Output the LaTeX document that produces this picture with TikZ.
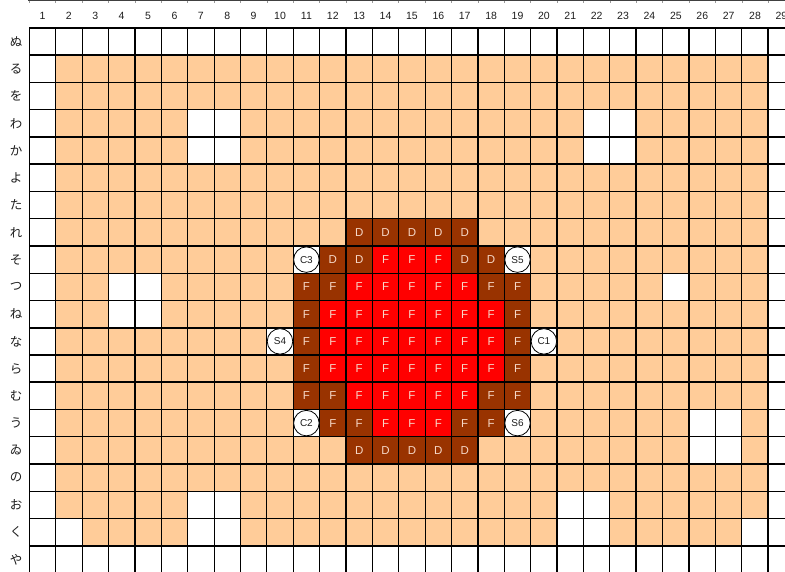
\documentclass[tikz,border=0pt]{standalone}
\usepackage{fontspec}
\setmainfont{Liberation Sans}
\newfontfamily\jpfont{Noto Sans CJK JP}
\definecolor{peach}{RGB}{255,204,153}
\definecolor{brownc}{RGB}{153,51,0}
\definecolor{redc}{RGB}{255,0,0}
\definecolor{lettc}{RGB}{246,216,200}
\definecolor{inkc}{RGB}{30,30,30}
\tikzset{
  cellbase/.style={minimum width=26.39pt, minimum height=27.25pt, inner sep=0pt, outer sep=0pt, draw=none, font=\fontsize{11.5}{12}\selectfont, text=lettc},
  dcell/.style={cellbase, fill=brownc},
  bfcell/.style={cellbase, fill=brownc},
  rfcell/.style={cellbase, fill=redc},
  wcell/.style={cellbase, fill=white},
  mark circle/.style={circle, draw=black, line width=0.8pt, fill=white, minimum size=25.5pt, inner sep=0pt, font=\fontsize{10}{11}\selectfont, text=inkc},
  headnum/.style={font=\fontsize{10.5}{11}\selectfont, text=inkc, inner sep=0pt},
  rowlab/.style={font=\jpfont\fontsize{12.5}{13}\selectfont, text=inkc, inner sep=0pt},
  thinline/.style={line width=0.9pt, draw=black},
  thickline/.style={line width=1.6pt, draw=black}
}
\newcommand{\CX}[1]{29.3+(#1-0.5)*26.39}
\newcommand{\CY}[1]{28+(#1-0.5)*27.25}
\begin{document}
\begin{tikzpicture}[x=1pt,y=-1pt]
\useasboundingbox (0,0) rectangle (785,572);
\clip (0,0) rectangle (785,572);
\fill[white] (0,0) rectangle (785,572);
% peach area cols 2-28, rows 2-19
\fill[peach] (55.69,55.25) rectangle (768.22,545.75);
% white cells
\foreach \c/\r [count=\i] in {7/4,8/4,7/5,8/5,22/4,23/4,22/5,23/5,4/10,5/10,4/11,5/11,25/10,26/15,27/15,26/16,27/16,7/18,8/18,7/19,8/19,2/19,21/18,22/18,21/19,22/19,28/19,11/9,19/9,10/12,20/12,11/15,19/15}
  \node[wcell] (w\i) at ({\CX{\c}},{\CY{\r}}) {};
% D cells
\foreach \c/\r in {13/8,14/8,15/8,16/8,17/8,12/9,13/9,17/9,18/9,13/16,14/16,15/16,16/16,17/16}
  \node[dcell] (d-\c-\r) at ({\CX{\c}},{\CY{\r}}) {D};
% brown F cells
\foreach \c/\r in {11/10,12/10,18/10,19/10,11/11,19/11,11/12,19/12,11/13,19/13,11/14,12/14,18/14,19/14,12/15,13/15,17/15,18/15}
  \node[bfcell] (bf-\c-\r) at ({\CX{\c}},{\CY{\r}}) {F};
% red F cells
\foreach \c/\r in {14/9,15/9,16/9,13/10,14/10,15/10,16/10,17/10,12/11,13/11,14/11,15/11,16/11,17/11,18/11,12/12,13/12,14/12,15/12,16/12,17/12,18/12,12/13,13/13,14/13,15/13,16/13,17/13,18/13,13/14,14/14,15/14,16/14,17/14,14/15,15/15,16/15}
  \node[rfcell] (rf-\c-\r) at ({\CX{\c}},{\CY{\r}}) {F};
% grid lines
\foreach \k in {0,...,29} {
  \pgfmathsetmacro{\xx}{29.3+\k*26.39}
  \ifnum\k=0 \def\st{thickline}\else\ifnum\k=1 \def\st{thickline}\else\ifnum\k=4 \def\st{thickline}\else\ifnum\k=12 \def\st{thickline}\else\ifnum\k=17 \def\st{thickline}\else\ifnum\k=20 \def\st{thickline}\else\ifnum\k=23 \def\st{thickline}\else\ifnum\k=25 \def\st{thickline}\else\ifnum\k=28 \def\st{thickline}\else\def\st{thinline}\fi\fi\fi\fi\fi\fi\fi\fi\fi
  \draw[\st] (\xx,28) -- (\xx,572);
}
\foreach \k in {0,...,20} {
  \pgfmathsetmacro{\yy}{28+\k*27.25}
  \ifnum\k=0 \def\st{thickline}\else\ifnum\k=1 \def\st{thickline}\else\ifnum\k=4 \def\st{thickline}\else\ifnum\k=5 \def\st{thickline}\else\ifnum\k=6 \def\st{thickline}\else\ifnum\k=8 \def\st{thickline}\else\ifnum\k=11 \def\st{thickline}\else\ifnum\k=12 \def\st{thickline}\else\ifnum\k=13 \def\st{thickline}\else\ifnum\k=16 \def\st{thickline}\else\ifnum\k=19 \def\st{thickline}\else\def\st{thinline}\fi\fi\fi\fi\fi\fi\fi\fi\fi\fi\fi
  \draw[\st] (29.3,\yy) -- (785,\yy);
}
% top header line with ticks
\draw[line width=0.8pt, draw=black!75] (28,0.6) -- (785,0.6);
\foreach \k in {0,...,29} {
  \pgfmathsetmacro{\xx}{29.3+\k*26.39}
  \draw[line width=0.6pt, draw=black!40] (\xx,0.6) -- (\xx,3);
}
% header numbers
\foreach \c in {1,...,29}
  \node[headnum] (h\c) at ({\CX{\c}},16) {\c};
% row labels
\foreach \t [count=\r] in {ぬ,る,を,わ,か,よ,た,れ,そ,つ,ね,な,ら,む,う,ゐ,の,お,く,や}
  \node[rowlab] (lab\r) at (16,{\CY{\r}}) {\t};
% circle markers
\node[mark circle] (c3) at ({\CX{11}},{\CY{9}}) {C3};
\node[mark circle] (s5) at ({\CX{19}},{\CY{9}}) {S5};
\node[mark circle] (s4) at ({\CX{10}},{\CY{12}}) {S4};
\node[mark circle] (c1) at ({\CX{20}},{\CY{12}}) {C1};
\node[mark circle] (c2) at ({\CX{11}},{\CY{15}}) {C2};
\node[mark circle] (s6) at ({\CX{19}},{\CY{15}}) {S6};
\end{tikzpicture}
\end{document}
